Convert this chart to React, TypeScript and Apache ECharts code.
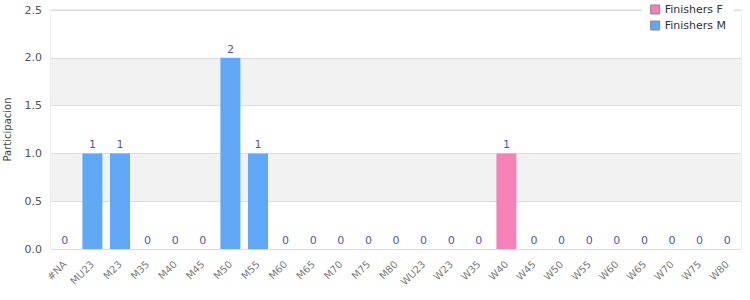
import React, { useEffect, useRef } from "react";
import * as echarts from "echarts";

const categories = ["#NA","MU23","M23","M35","M40","M45","M50","M55","M60","M65","M70","M75","M80","WU23","W23","W35","W40","W45","W50","W55","W60","W65","W70","W75","W80"];
const finishersM = [0,1,1,0,0,0,2,1,0,0,0,0,0,0,0,0,0,0,0,0,0,0,0,0,0];
const finishersF = [0,0,0,0,0,0,0,0,0,0,0,0,0,0,0,0,1,0,0,0,0,0,0,0,0];
const totals = categories.map((_, i) => finishersM[i] + finishersF[i]);

const FONT = "DejaVu Sans";

export default function App() {
  const ref = useRef<HTMLDivElement>(null);
  useEffect(() => {
    if (!ref.current) return;
    const chart = echarts.init(ref.current, undefined, { renderer: "svg" });
    chart.setOption({
      animation: false,
      textStyle: { fontFamily: FONT },
      legend: {
        top: 2,
        right: 16,
        orient: "vertical",
        itemWidth: 9,
        itemHeight: 9,
        itemGap: 5,
        backgroundColor: "#fff",
        padding: [2, 8, 2, 8],
        textStyle: { fontFamily: FONT, fontSize: 11, color: "#333" },
        data: [
          { name: "Finishers F", icon: "rect", itemStyle: { borderColor: "#888", borderWidth: 1 } },
          { name: "Finishers M", icon: "rect", itemStyle: { borderColor: "#888", borderWidth: 1 } },
        ],
        z: 10,
      },
      grid: { left: 51, right: 9, top: 10, bottom: 51, show: true, borderColor: "#ddd", borderWidth: 1, containLabel: false, outerBoundsMode: "none" },
      xAxis: {
        type: "category",
        data: categories,
        axisLine: { show: false },
        axisTick: { show: false },
        axisLabel: { show: false },
      },
      yAxis: {
        type: "value",
        min: 0,
        max: 2.5,
        interval: 0.5,
        name: "Participacion",
        nameLocation: "middle",
        nameGap: 39,
        nameTextStyle: { fontFamily: FONT, fontSize: 10, color: "#444" },
        axisLabel: { formatter: (v: number) => v.toFixed(1), fontFamily: FONT, fontSize: 11, color: "#555", margin: 9 },
        splitLine: { show: true, lineStyle: { color: "#ddd" } },
        splitArea: { show: true, areaStyle: { color: ["#ffffff", "#f2f2f2"] } },
      },
      series: [
        { name: "Finishers F", type: "bar", stack: "t", data: finishersF, barWidth: 20, itemStyle: { color: "#f282b8" } },
        { name: "Finishers M", type: "bar", stack: "t", data: finishersM, barWidth: 20, itemStyle: { color: "#60a8f5" } },
        {
          name: "total",
          type: "scatter",
          data: totals,
          symbolSize: 2,
          itemStyle: { color: "rgba(0,0,0,0)" },
          label: { show: true, position: "top", distance: 2, fontFamily: FONT, fontSize: 11, color: "#22229a" },
          tooltip: { show: false },
          silent: true,
          z: 5,
        },
        {
          name: "xlabels",
          type: "scatter",
          data: categories.map(() => 0),
          symbolSize: 1,
          itemStyle: { color: "rgba(0,0,0,0)" },
          label: {
            show: true,
            position: "bottom",
            distance: 13,
            rotate: 45,
            align: "right",
            verticalAlign: "middle",
            formatter: (p: any) => categories[p.dataIndex],
            fontFamily: FONT,
            fontSize: 10,
            color: "#555",
          },
          tooltip: { show: false },
          silent: true,
          clip: false,
        },
      ],
    });
    return () => chart.dispose();
  }, []);
  return <div ref={ref} style={{ width: 750, height: 300, position: "absolute", left: 0, top: 0 }} />;
}
